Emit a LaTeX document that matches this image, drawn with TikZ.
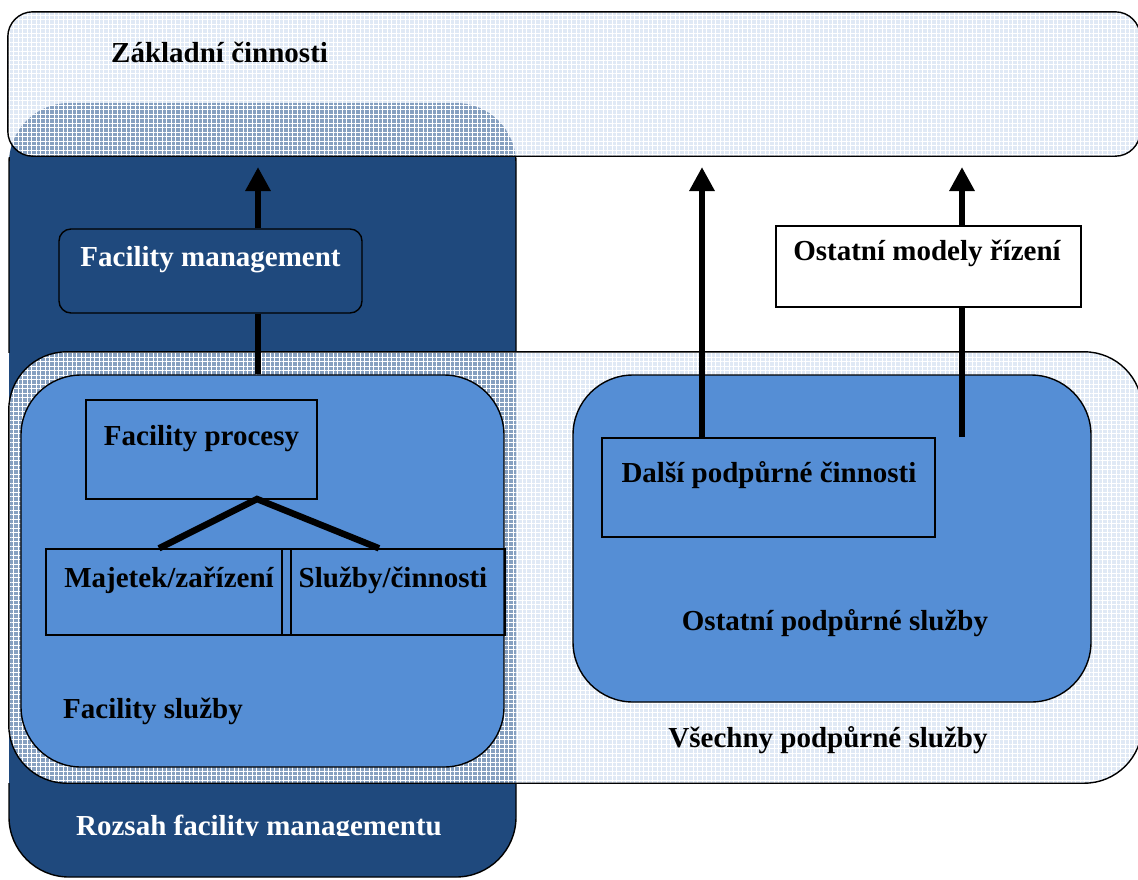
\documentclass[tikz,border=0pt]{standalone}
\usepackage{fontspec}
\setmainfont{Liberation Serif}
\usetikzlibrary{arrows.meta,calc,patterns.meta}
\definecolor{darkblue}{HTML}{1F497D}
\definecolor{midblue}{HTML}{558ED5}
\definecolor{paleblue}{HTML}{CCDAEE}
\begin{document}
\begin{tikzpicture}[x=1pt,y=-1pt,
  lbl/.style={font=\fontsize{29}{32}\selectfont\bfseries, inner sep=0pt, anchor=base},
  thin/.style={draw=black, line width=1.4pt},
  pale/.style={draw=none, fill=paleblue, fill opacity=0.6, text opacity=1},
  texture/.style={pattern={Hatch[angle=0,distance=4.5pt,line width=0.9pt]}, pattern color=white, fill opacity=0.35},
  boxnode/.style={thin, rectangle, inner sep=0pt},
  thick/.style={line width=6.5pt, line cap=butt},
  arr/.style={thick, -{Triangle[length=24pt,width=24pt]}}
]
\useasboundingbox (0,0) rectangle (1138,879);
% dark scope box
\node[fill=darkblue, draw=none, rectangle, rounded corners=60pt, inner sep=0pt,
      minimum width=507pt, minimum height=774pt] (scope) at (262.5,490) {};
\begin{scope}
  \clip (0,157) rectangle (1138,352);
  \draw[line width=1.4pt, rounded corners=60pt] (9,103) rectangle (516,877);
\end{scope}
\begin{scope}
  \clip (0,783) rectangle (1138,879);
  \draw[line width=1.4pt, rounded corners=60pt] (9,103) rectangle (516,877);
\end{scope}
% top translucent box
\node[pale, rectangle, rounded corners=25pt, inner sep=0pt,
      minimum width=1132pt, minimum height=144pt] (core) at (574,84) {};
\path[texture, rounded corners=25pt] (core.north west) rectangle (core.south east);
\draw[line width=1.4pt, rounded corners=25pt] (core.north west) rectangle (core.south east);
% all support services box
\node[pale, rectangle, rounded corners=58pt, inner sep=0pt,
      minimum width=1133pt, minimum height=431pt] (allsup) at (575.5,567.5) {};
\path[texture, rounded corners=58pt] (allsup.north west) rectangle (allsup.south east);
\draw[line width=1.4pt, rounded corners=58pt] (allsup.north west) rectangle (allsup.south east);
% facility services box
\node[boxnode, fill=midblue, rounded corners=60pt,
      minimum width=483pt, minimum height=392pt] (fs) at (262.5,571) {};
% other support services box
\node[boxnode, fill=midblue, rounded corners=60pt,
      minimum width=518pt, minimum height=327pt] (osup) at (832,538.5) {};
% facility management box
\node[boxnode, fill=darkblue, rounded corners=12pt,
      minimum width=303pt, minimum height=84pt] (fm) at (210.5,271) {};
% facility processes
\node[boxnode, minimum width=231pt, minimum height=99pt] (fp) at (201.5,449.5) {};
\node[boxnode, minimum width=245pt, minimum height=86pt] (maj) at (168.5,592) {};
\node[boxnode, minimum width=223pt, minimum height=86pt] (sluz) at (393.5,592) {};
% other support activities
\node[boxnode, minimum width=333pt, minimum height=99pt] (dalsi) at (768.5,487.5) {};
% other management models
\node[boxnode, fill=white, minimum width=305pt, minimum height=81pt] (modely) at (928.5,266.5) {};

% coordinates
\coordinate (t1) at (258,167);
\coordinate (t2) at (702,167);
\coordinate (t3) at (962,167);
\coordinate (e3) at (962,437);
\coordinate (apx) at (257,499);

% connectors
\draw[arr] (fm.north -| t1) -- (t1);
\draw[thick] (fm.south -| t1) -- (fs.north -| t1);
\draw[arr] (dalsi.north -| t2) -- (t2);
\draw[thick] (e3) -- (modely.south -| e3);
\draw[arr] (modely.north -| t3) -- (t3);
\draw[thick, line join=miter] ($(maj.north)+(-9.5,0)$) -- (apx) -- ($(sluz.north)+(-14.5,0)$);

% labels
\node[lbl, anchor=base west] (tcore) at (111,62) {Základní činnosti};
\node[lbl, text=white] (tfm) at (210.5,266) {Facility management};
\node[lbl] (tfp) at (201.5,445) {Facility procesy};
\node[lbl] (tmaj) at (169,587) {Majetek/zařízení};
\node[lbl] (tsluz) at (393,587) {Služby/činnosti};
\node[lbl, anchor=base west] (tfs) at (63,718) {Facility služby};
\node[lbl] (tmod) at (927,260) {Ostatní modely řízení};
\node[lbl] (tdal) at (769,482) {Další podpůrné činnosti};
\node[lbl] (tosup) at (835,630) {Ostatní podpůrné služby};
\node[lbl] (tall) at (828,747) {Všechny podpůrné služby};
\begin{scope}
  \clip (0,0) rectangle (1138,835);
  \node[lbl, text=white] (tscope) at (259,835) {Rozsah facility managementu};
\end{scope}
\end{tikzpicture}
\end{document}
